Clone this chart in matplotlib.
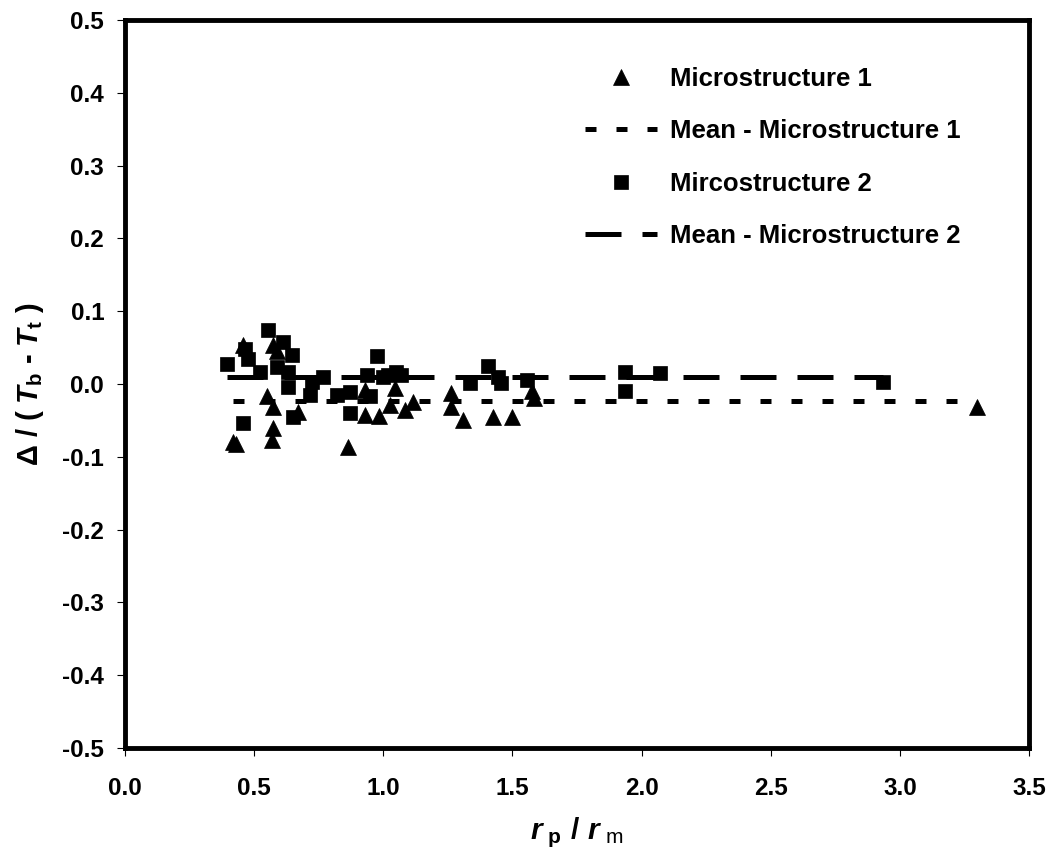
import matplotlib
matplotlib.use("Agg")
import matplotlib.pyplot as plt

plt.rcParams['font.family'] = ['Liberation Sans', 'DejaVu Sans']
plt.rcParams['mathtext.fontset'] = 'custom'
plt.rcParams['mathtext.rm'] = 'Liberation Sans:bold'
plt.rcParams['mathtext.it'] = 'Liberation Sans:bold:italic'
plt.rcParams['mathtext.bf'] = 'Liberation Sans:bold'
plt.rcParams['mathtext.sf'] = 'Liberation Sans'

# Microstructure 1 (triangles)
m1_x = [0.42, 0.43, 0.458, 0.548, 0.568, 0.574, 0.574, 0.574, 0.59, 0.671,
        0.865, 0.929, 0.929, 0.985, 1.026, 1.045, 1.084, 1.115, 1.264, 1.264,
        1.307, 1.425, 1.497, 1.574, 1.583, 3.297]
m1_y = [-0.079, -0.082, 0.054, -0.017, -0.077, -0.061, -0.031, 0.054, 0.045, -0.038,
        -0.086, -0.043, -0.008, -0.044, -0.029, -0.005, -0.036, -0.025, -0.013, -0.031,
        -0.049, -0.046, -0.045, -0.010, -0.019, -0.031]

# Microstructure 2 (squares)
m2_x = [0.396, 0.456, 0.465, 0.477, 0.523, 0.555, 0.587, 0.613, 0.632, 0.632,
        0.645, 0.652, 0.716, 0.723, 0.768, 0.82, 0.871, 0.871, 0.936, 0.948,
        0.974, 1.0, 1.02, 1.05, 1.07, 1.336, 1.406, 1.445, 1.455, 1.555,
        1.936, 1.936, 2.07, 2.935]
m2_y = [0.028, -0.053, 0.048, 0.034, 0.017, 0.074, 0.024, 0.058, 0.017, -0.004,
        0.040, -0.045, -0.015, 0.003, 0.010, -0.015, -0.011, -0.040, 0.012, -0.017,
        0.038, 0.010, 0.012, 0.016, 0.012, 0.002, 0.025, 0.010, 0.001, 0.005,
        0.017, -0.009, 0.015, 0.003]

mean1 = -0.024
mean2 = 0.010

xticks = [0.0, 0.5, 1.0, 1.5, 2.0, 2.5, 3.0, 3.5]
yticks = [-0.5, -0.4, -0.3, -0.2, -0.1, 0.0, 0.1, 0.2, 0.3, 0.4, 0.5]

fig = plt.figure(figsize=(10.52, 8.59), dpi=100)
ax = fig.add_axes([125/1052, 1-748/859, (1029-125)/1052, (748-20)/859])

ax.plot(m1_x, m1_y, linestyle='none', marker='^', ms=11.5, color='black',
        mew=0.5, label='Microstructure 1', zorder=3)
ax.plot([min(m1_x), max(m1_x)], [mean1, mean1], color='black', lw=3.6,
        dashes=(2.2, 4.0), dash_capstyle='butt', label='Mean - Microstructure 1', zorder=2)
ax.plot(m2_x, m2_y, linestyle='none', marker='s', ms=10.5, color='black',
        mew=0.5, label='Mircostructure 2', zorder=3)
ax.plot([min(m2_x), max(m2_x)], [mean2, mean2], color='black', lw=3.6,
        dashes=(7.2, 4.2), dash_capstyle='butt', label='Mean - Microstructure 2', zorder=2)

ax.set_xlim(0, 3.5)
ax.set_ylim(-0.5, 0.5)
ax.set_xticks(xticks)
ax.set_yticks(yticks)
ax.set_xticklabels([f'{v:.1f}' for v in xticks])
ax.set_yticklabels([f'{v:.1f}' for v in yticks])
ax.tick_params(direction='out', length=6, width=0.8, labelsize=17.5)
ax.tick_params(axis='y', pad=9)
ax.tick_params(axis='x', pad=15)
for lab in ax.get_xticklabels() + ax.get_yticklabels():
    lab.set_fontweight('bold')
for sp in ax.spines.values():
    sp.set_linewidth(3.5)

ax.set_xlabel(r'$r_{\ \mathrm{p}}\ /\ r_{\ \mathsf{m}}$', fontsize=21.5, fontweight='bold', labelpad=11)
ax.set_ylabel(r'$\Delta$ / ( $T_{\mathrm{b}}$ - $T_{\mathrm{t}}$ )', fontsize=21,
              fontweight='bold', labelpad=12)

leg = ax.legend(loc='upper left', bbox_to_anchor=(585/1052, 1-67/859),
                bbox_transform=fig.transFigure, frameon=False,
                prop={'weight': 'bold', 'size': 18.5}, handlelength=2.8,
                handletextpad=0.5, labelspacing=1.1, borderaxespad=0, borderpad=0)

fig.savefig('out.png', dpi=100)
